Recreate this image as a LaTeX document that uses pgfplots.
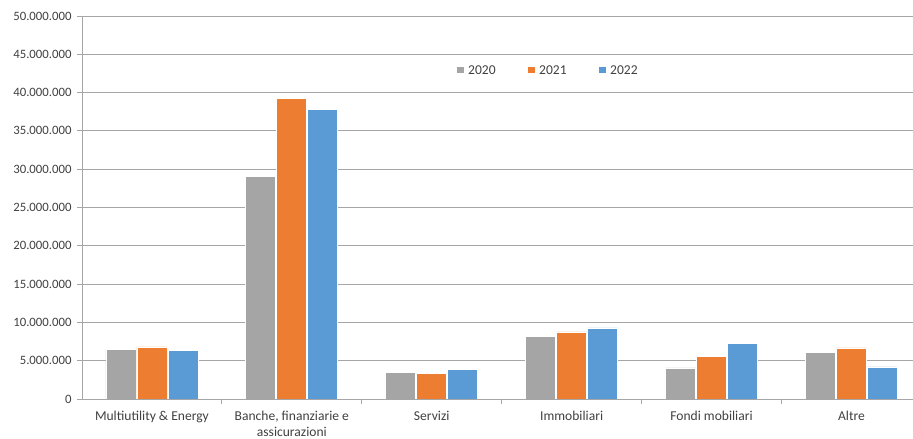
\documentclass[border=0pt]{standalone}
\usepackage{pgfplots}
\pgfplotsset{compat=1.18}
\usepackage{fontspec}
\setmainfont{Carlito}

\definecolor{c2020}{HTML}{A5A5A5}
\definecolor{c2021}{HTML}{ED7D31}
\definecolor{c2022}{HTML}{5B9BD5}
\definecolor{gridc}{HTML}{A6A6A6}
\definecolor{txt}{HTML}{404040}

\begin{document}
\begin{tikzpicture}
\begin{axis}[
  scale only axis, width=831bp, height=383bp,
  ymin=0, ymax=50000000, ytick distance=5000000,
  xmin=-0.5, xmax=5.44,
  ybar=1bp, bar width=30bp,
  axis x line*=bottom, axis y line*=left,
  axis line style={gridc, line width=0.8bp, -},
  ymajorgrids, grid style={gridc, line width=0.8bp},
  tick align=outside,
  major tick length=5bp, minor tick length=5bp,
  ytick style={gridc, line width=0.8bp},
  major x tick style={draw=none},
  minor x tick style={gridc, line width=0.8bp},
  xtick={0,...,5},
  minor xtick={0.5,1.5,...,4.5},
  xticklabels={Multiutility \& Energy, {Banche, finanziarie e\\assicurazioni}, Servizi, Immobiliari, Fondi mobiliari, Altre},
  xticklabel style={align=center, font=\fontsize{13.6}{15.5}\selectfont, text=txt, yshift=-4bp},
  yticklabel style={font=\fontsize{12.8}{14}\selectfont, text=txt, xshift=-2bp},
  scaled y ticks=false,
  /pgf/number format/.cd, fixed, 1000 sep={.}, assume math mode=true,
  /pgfplots/.cd,
  legend style={at={(rel axis cs:0.561,0.858)}, anchor=center, draw=none, fill=none,
    legend columns=3, font=\fontsize{13.6}{15}\selectfont, text=txt,
    /tikz/every odd column/.append style={column sep=3bp},
    /tikz/every even column/.append style={column sep=31bp},
    nodes={inner sep=1.5bp}},
  legend image code/.code={\fill[#1,draw=none] (0bp,-3bp) rectangle (6.5bp,3.5bp);},
  every axis plot/.append style={draw=white, line width=0.8bp},
]
\addplot[fill=c2020] coordinates {(0,6500000) (1,29000000) (2,3500000) (3,8200000) (4,4050000) (5,6050000)};
\addplot[fill=c2021] coordinates {(0,6800000) (1,39200000) (2,3300000) (3,8750000) (4,5500000) (5,6660000)};
\addplot[fill=c2022] coordinates {(0,6300000) (1,37800000) (2,3900000) (3,9270000) (4,7200000) (5,4180000)};
\legend{2020,2021,2022}
\coordinate (sw) at (rel axis cs:0,0);
\coordinate (ne) at (rel axis cs:1,1);
\end{axis}
\pgfresetboundingbox
\path[use as bounding box] ([xshift=-82bp,yshift=-40bp]sw) rectangle ([yshift=16bp]ne);
\end{tikzpicture}
\end{document}
